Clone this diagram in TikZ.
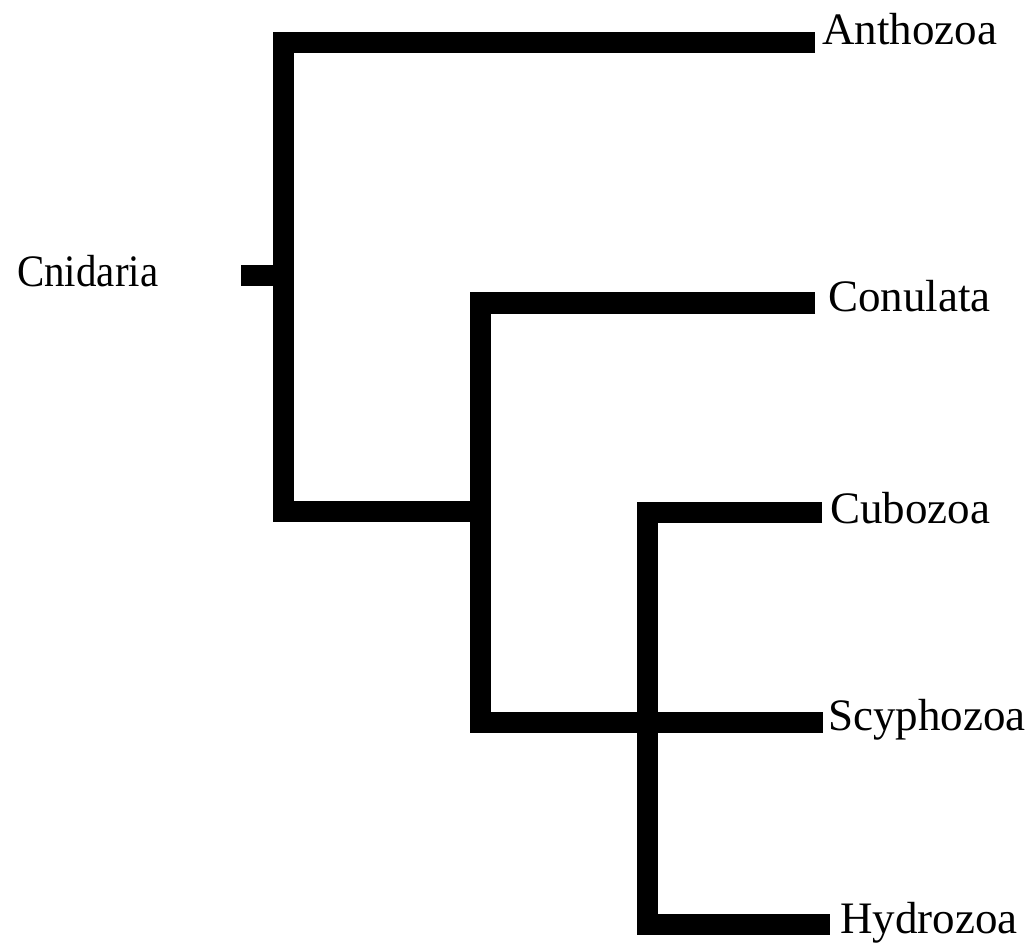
\documentclass[tikz,border=0pt]{standalone}
\usepackage{fontspec}
\setmainfont{Liberation Serif}
\begin{document}
\begin{tikzpicture}[x=1pt,y=-1pt,
  branch/.style={line width=21pt, line join=miter, line cap=butt, draw=black},
  taxon/.style={anchor=base west, inner sep=0pt, font=\fontsize{45}{54}\selectfont}]
\useasboundingbox[fill=white] (0,0) rectangle (1035,949);
% labels
\node[taxon, xscale=0.91] (cni) at (17,287) {Cnidaria};
\node[taxon] (ant) at (822,45) {Anthozoa};
\node[taxon] (con) at (828,312) {Conulata};
\node[taxon] (cub) at (830,523) {Cubozoa};
\node[taxon] (scy) at (828,730) {Scyphozoa};
\node[taxon] (hyd) at (840,933) {Hydrozoa};
% branch points and bar ends
\coordinate (root) at (241,276);
\coordinate (n1) at (283,276);
\coordinate (n1t) at (283,43);
\coordinate (n1b) at (283,511.5);
\coordinate (n2t) at (480,303);
\coordinate (n2) at (480,511.5);
\coordinate (n2b) at (480,722);
\coordinate (n3t) at (647,512);
\coordinate (n3b) at (647,924);
\coordinate (antE) at (815,43);
\coordinate (conE) at (815,303);
\coordinate (cubE) at (822,512);
\coordinate (scyE) at (823,722);
\coordinate (hydE) at (830,924);
% tree
\draw[branch] (root) -- (n1);
\draw[branch] (antE) -- (n1t) -- (n1b) -- (n2);
\draw[branch] (conE) -- (n2t) -- (n2b) -- (scyE);
\draw[branch] (cubE) -- (n3t) -- (n3b) -- (hydE);
\end{tikzpicture}
\end{document}
